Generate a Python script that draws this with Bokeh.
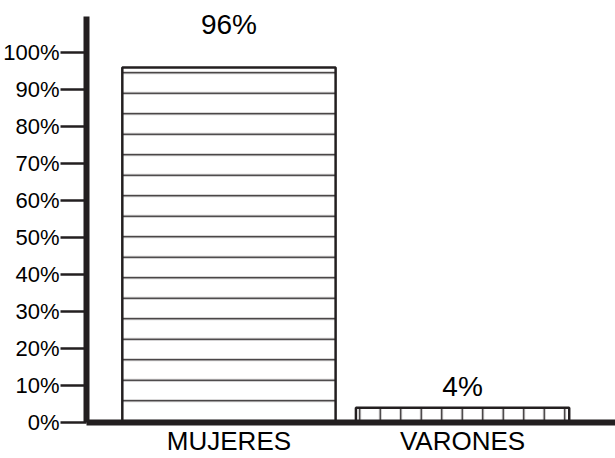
from bokeh.plotting import figure
from bokeh.models import Range1d, FixedTicker, ColumnDataSource, LabelSet
from bokeh.core.properties import value
from bokeh.embed import file_html
from bokeh.resources import INLINE

categories = ["MUJERES", "VARONES"]
percentages = [96, 4]
value_labels = ["96%", "4%"]
y_tick_values = [0, 10, 20, 30, 40, 50, 60, 70, 80, 90, 100]
y_tick_labels = ["0%", "10%", "20%", "30%", "40%", "50%", "60%", "70%", "80%", "90%", "100%"]

INK = "#231f20"
FONT = "Liberation Sans"

xs = [i + 0.5 for i in range(len(categories))]
label_offsets = [27, 6]
hatches = ["horizontal_line", "vertical_line"]

src = ColumnDataSource(dict(x=xs, top=percentages, label=value_labels,
                            off=label_offsets, hatch=hatches))

p = figure(width=615, height=458, output_backend="svg", toolbar_location=None,
           x_range=Range1d(-0.1098, 2.1546), y_range=Range1d(0, 114.1),
           min_border_left=84, min_border_right=0, min_border_top=0,
           min_border_bottom=32)
p.outline_line_color = None
p.grid.visible = False
p.background_fill_color = "white"
p.border_fill_color = "white"

p.vbar(x="x", top="top", bottom=0, width=0.913, source=src,
       fill_color="white", line_color=INK, line_width=2.5,
       hatch_pattern="hatch", hatch_color=INK, hatch_weight=1.5, hatch_scale=20.5)

value_set = LabelSet(x="x", y="top", text="label", y_offset="off", source=src,
                     text_align="center", text_baseline="bottom",
                     text_font=value(FONT), text_font_size=value("28px"),
                     text_color="black")
p.add_layout(value_set)

# y axis
ya = p.yaxis[0]
ya.bounds = (0, 109.8)
ya.ticker = FixedTicker(ticks=y_tick_values)
ya.major_label_overrides = {v: l for v, l in zip(y_tick_values, y_tick_labels)}
ya.axis_line_width = 6
ya.axis_line_color = INK
ya.major_tick_in = 0
ya.major_tick_out = 26
ya.major_tick_line_width = 2.5
ya.major_tick_line_color = INK
ya.minor_tick_line_color = None
ya.major_label_standoff = 1
ya.major_label_text_font = FONT
ya.major_label_text_font_size = "22px"
ya.major_label_text_color = "black"

# x axis
xa = p.xaxis[0]
xa.ticker = FixedTicker(ticks=xs)
xa.major_label_overrides = {x: c for x, c in zip(xs, categories)}
xa.axis_line_width = 6
xa.axis_line_color = INK
xa.major_tick_in = 0
xa.major_tick_out = 0
xa.major_tick_line_color = None
xa.minor_tick_line_color = None
xa.major_label_standoff = 3
xa.major_label_text_font = FONT
xa.major_label_text_font_size = "26px"
xa.major_label_text_color = "black"

open("out.html", "w").write(file_html(p, INLINE))
